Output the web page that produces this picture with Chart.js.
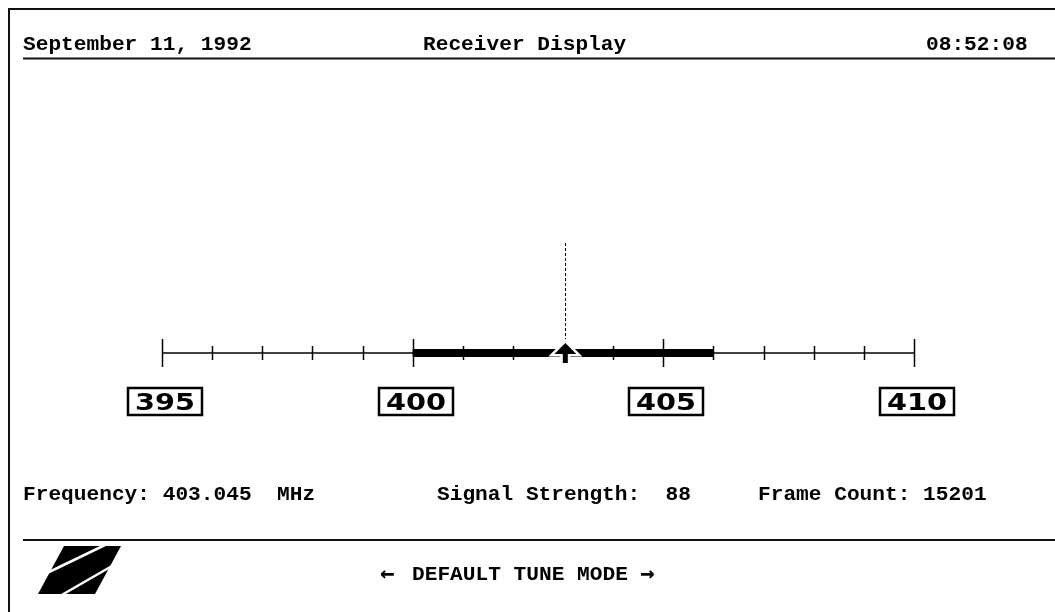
<!DOCTYPE html>
<html>
<head>
<meta charset="utf-8">
<script src="https://cdn.jsdelivr.net/npm/chart.js"></script>
<style>
html, body { margin: 0; padding: 0; background: #fff; }
#wrap { position: absolute; left: 0; top: 0; width: 1055px; height: 612px; }
</style>
</head>
<body>
<div id="wrap"><canvas id="receiverChart"></canvas></div>
<script>
// dial data
const scaleRange = [395, 410];
const majorTicks = [395, 400, 405, 410];
const tunedBand = [400, 406];
const tunedFreq = 403.045;
const signalStrength = 88;
const frameCount = 15201;

const headerTexts = ["September 11, 1992", "Receiver Display", "08:52:08"];
const modeText = "DEFAULT TUNE MODE";

const MONO = "bold 21px 'Liberation Mono', 'DejaVu Sans Mono', monospace";
const PITCH = 12.7;

function monoText(ctx, text, x, y) {
  ctx.save();
  ctx.font = MONO;
  ctx.textBaseline = 'alphabetic';
  ctx.textAlign = 'left';
  let w = ctx.measureText(text).width;
  ctx.translate(x, y);
  ctx.scale(text.length * PITCH / w, 1);
  ctx.fillText(text, 0, 0);
  ctx.restore();
}

function hline(ctx, x1, x2, y, w) {
  ctx.lineWidth = w;
  ctx.beginPath(); ctx.moveTo(x1, y); ctx.lineTo(x2, y); ctx.stroke();
}

const panelPlugin = {
  id: 'panel',
  beforeDraw(chart) {
    const ctx = chart.ctx;
    ctx.save();
    ctx.fillStyle = '#fff';
    ctx.fillRect(0, 0, chart.width, chart.height);
    ctx.strokeStyle = '#111';
    // outer frame
    hline(ctx, 8, chart.width, 9, 2);
    ctx.beginPath(); ctx.moveTo(9, 8); ctx.lineTo(9, chart.height); ctx.stroke();
    // header
    ctx.fillStyle = '#000';
    monoText(ctx, headerTexts[0], 23, 50);
    monoText(ctx, headerTexts[1], 423, 50);
    monoText(ctx, headerTexts[2], 926, 50);
    hline(ctx, 23, chart.width, 58.5, 2);
    // status line
    monoText(ctx, 'Frequency: ' + tunedFreq.toFixed(3) + '  MHz', 23, 500);
    monoText(ctx, 'Signal Strength:  ' + signalStrength, 437, 500);
    monoText(ctx, 'Frame Count: ' + frameCount, 758, 500);
    hline(ctx, 23, chart.width, 540, 2);
    ctx.save();
    ctx.font = "bold 24px 'DejaVu Sans Mono', monospace";
    ctx.fillText('\u2190', 380, 581);
    ctx.fillText('\u2192', 640, 581);
    ctx.restore();
    monoText(ctx, modeText, 412, 580);
    // logo
    ctx.beginPath();
    ctx.moveTo(64, 546); ctx.lineTo(121, 546); ctx.lineTo(95, 594); ctx.lineTo(38, 594);
    ctx.closePath(); ctx.fill();
    ctx.strokeStyle = '#fff';
    ctx.lineWidth = 2.5;
    ctx.beginPath(); ctx.moveTo(47, 573); ctx.lineTo(105, 545); ctx.stroke();
    ctx.beginPath(); ctx.moveTo(60, 596); ctx.lineTo(112, 566); ctx.stroke();
    ctx.restore();
  },
  afterDatasetsDraw(chart) {
    const ctx = chart.ctx;
    const x = chart.scales.x, y = chart.scales.y;
    const ay = y.getPixelForValue(0);
    ctx.save();
    ctx.strokeStyle = '#000';
    ctx.fillStyle = '#000';
    // ticks
    ctx.lineWidth = 1.5;
    for (let v = scaleRange[0]; v <= scaleRange[1]; v++) {
      const px = Math.round(x.getPixelForValue(v)) + 0.5;
      const len = majorTicks.includes(v) ? 14 : 7;
      ctx.beginPath(); ctx.moveTo(px, ay - len); ctx.lineTo(px, ay + len); ctx.stroke();
    }
    // boxed labels
    majorTicks.forEach(v => {
      const px = x.getPixelForValue(v);
      const bx = Math.round(px) - 35, bw = 76;
      ctx.lineWidth = 2.5;
      ctx.strokeRect(bx + 1, 388, bw - 2, 27);
      ctx.save();
      ctx.font = "bold 23px 'DejaVu Sans', sans-serif";
      ctx.textAlign = 'center';
      ctx.translate(bx + bw / 2, 410);
      ctx.scale(1.25, 1);
      ctx.fillText(String(v), 0, 0);
      ctx.restore();
    });
    // tuning marker
    const mx = x.getPixelForValue(tunedFreq);
    ctx.lineWidth = 1;
    ctx.setLineDash([3, 2]);
    ctx.beginPath(); ctx.moveTo(Math.round(mx) + 0.5, y.getPixelForValue(1)); ctx.lineTo(Math.round(mx) + 0.5, ay - 14); ctx.stroke();
    ctx.setLineDash([]);
    ctx.beginPath();
    ctx.moveTo(mx, ay - 10);
    ctx.lineTo(mx + 11, ay + 1);
    ctx.lineTo(mx + 2.5, ay + 1);
    ctx.lineTo(mx + 2.5, ay + 10);
    ctx.lineTo(mx - 2.5, ay + 10);
    ctx.lineTo(mx - 2.5, ay + 1);
    ctx.lineTo(mx - 11, ay + 1);
    ctx.closePath();
    ctx.strokeStyle = '#fff';
    ctx.lineWidth = 5;
    ctx.lineJoin = 'miter';
    ctx.stroke();
    ctx.fill();
    ctx.restore();
  }
};

new Chart(document.getElementById('receiverChart'), {
  type: 'scatter',
  data: {
    datasets: [
      {
        label: 'dial',
        data: scaleRange.map(f => ({x: f, y: 0})),
        showLine: true,
        clip: false,
        borderColor: '#000',
        borderWidth: 1.5,
        pointRadius: 0
      },
      {
        label: 'band',
        data: tunedBand.map(f => ({x: f, y: 0})),
        showLine: true,
        clip: false,
        borderColor: '#000',
        borderWidth: 8,
        borderCapStyle: 'butt',
        pointRadius: 0
      }
    ]
  },
  options: {
    responsive: true,
    maintainAspectRatio: false,
    animation: false,
    layout: { padding: { left: 162, right: 141, top: 243, bottom: 259 } },
    plugins: { legend: { display: false }, tooltip: { enabled: false } },
    scales: {
      x: { type: 'linear', min: scaleRange[0], max: scaleRange[1], display: false },
      y: { min: 0, max: 1, display: false }
    }
  },
  plugins: [panelPlugin]
});
</script>
</body>
</html>
